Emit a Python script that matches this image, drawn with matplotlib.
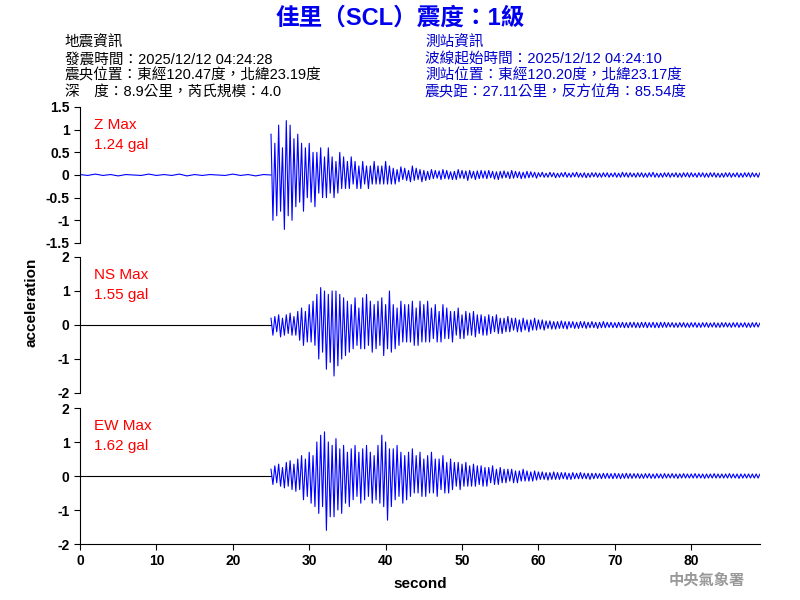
import matplotlib
matplotlib.use("Agg")
import matplotlib.pyplot as plt
import numpy as np

plt.rcParams['font.family'] = ['Liberation Sans', 'Noto Sans CJK TC', 'DejaVu Sans']

# pre-event samples, evenly spaced from t=0 to t=25
z_pre = [0.01,-0.01,0.02,-0.01,0.01,-0.02,0.01,0.0,-0.01,0.02,-0.01,0.01,-0.01,0.02,-0.02,0.01,-0.01,0.01,0.0,-0.01,0.02,-0.01,0.01,-0.02,0.01,0.0]
ns_pre = [0.0, 0.0]
ew_pre = [0.0, 0.0]
# event samples every 0.25 s from t=25
z_vals = [0.9,-1.0,0.7,-0.9,1.1,-0.8,0.6,-1.2,
          1.2,-0.9,1.1,-1.0,0.8,-0.7,0.9,-0.6,
          0.7,-0.8,0.6,-0.5,0.7,-0.6,0.5,-0.7,
          0.5,-0.4,0.6,-0.5,0.4,-0.5,0.6,-0.4,
          0.4,-0.5,0.3,-0.4,0.5,-0.3,0.4,-0.3,
          0.3,-0.3,0.4,-0.2,0.3,-0.3,0.2,-0.3,
          0.3,-0.2,0.2,-0.3,0.2,-0.2,0.3,-0.2,
          0.2,-0.2,0.2,-0.2,0.3,-0.2,0.2,-0.2,
          0.15,-0.2,0.12,-0.15,0.18,-0.1,0.15,-0.12,0.1,-0.15,0.2,-0.12,0.15,-0.1,0.12,-0.15,
          0.1,-0.12,0.08,-0.1,0.12,-0.08,0.1,-0.07,0.09,-0.1,0.12,-0.08,0.1,-0.09,0.07,-0.1,
          0.08,-0.1,0.12,-0.07,0.1,-0.08,0.09,-0.12,0.1,-0.07,0.08,-0.1,0.09,-0.08,0.1,-0.07,
          0.09,-0.08,0.1,-0.06,0.08,-0.09,0.07,-0.1,0.08,-0.07,0.09,-0.06,0.07,-0.08,0.1,-0.07,
          0.08,-0.06,0.07,-0.08,0.06,-0.07,0.08,-0.06,0.07,-0.05,0.06,-0.07,
          0.05,-0.04,0.06,-0.05,0.04,-0.05,0.06,-0.04,0.05,-0.06,0.04,-0.05,0.05,-0.04,0.06,-0.05,
          0.04,-0.05,0.05,-0.04,0.06,-0.05,0.04,-0.05,0.05,-0.06,0.04,-0.05,0.05,-0.04,0.05,-0.05,
          0.04,-0.05,0.05,-0.04,0.05,-0.05,0.04,-0.04,0.05,-0.05,0.04,-0.05,0.06,-0.04,0.05,-0.05,
          0.05,-0.04,0.04,-0.05,0.05,-0.04,0.05,-0.05,0.04,-0.05,0.05,-0.04,0.06,-0.05,0.04,-0.05,
          0.04,-0.05,0.05,-0.04,0.05,-0.05,0.04,-0.04,0.05,-0.05,0.04,-0.05,0.05,-0.04,0.05,-0.05,
          0.05,-0.04,0.04,-0.05,0.05,-0.04,0.05,-0.05,0.04,-0.05,0.05,-0.04,0.05,-0.05,0.04,-0.05,
          0.04,-0.05,0.05,-0.04,0.05,-0.05,0.04,-0.04,0.05,-0.05,0.04,-0.05,0.05,-0.04,0.05,-0.05,
          0.05,-0.04,0.04,-0.05,0.05,-0.04,0.05,-0.05]
ns_vals = [0.2,-0.3,0.25,-0.2,0.3,-0.35,0.2,-0.3,
           0.3,-0.25,0.35,-0.3,0.25,-0.3,
           0.4,-0.45,0.5,-0.6,0.4,-0.5,0.6,-0.5,0.7,-0.6,
           0.9,-1.0,1.1,-0.8,1.0,-1.3,0.9,-1.1,
           1.0,-1.5,1.0,-1.2,0.9,-1.0,0.8,-0.9,
           0.7,-0.8,0.6,-0.7,0.8,-0.6,0.5,-0.7,
           0.8,-0.7,0.9,-0.6,0.7,-0.8,0.6,-0.7,
           0.7,-0.6,0.8,-0.9,0.6,-0.7,1.0,-0.8,0.6,-0.7,0.5,-0.6,0.7,-0.5,0.6,-0.5,
           0.6,-0.5,0.7,-0.6,0.5,-0.6,0.7,-0.5,0.6,-0.5,0.7,
           -0.5,0.5,-0.4,0.6,-0.5,0.4,-0.5,0.6,-0.4,0.5,-0.4,0.4,-0.5,0.4,-0.3,0.5,-0.4,
           0.3,-0.4,0.4,-0.3,0.35,-0.3,0.4,-0.35,0.3,-0.25,0.3,-0.3,0.25,-0.3,0.3,-0.25,
           0.25,-0.2,0.3,-0.25,0.2,-0.25,0.2,-0.2,0.25,-0.2,0.2,-0.15,0.2,-0.2,0.15,-0.2,
           0.2,-0.15,0.15,-0.2,0.15,-0.15,0.2,-0.15,0.15,-0.12,0.15,-0.15,
           0.12,-0.1,0.12,-0.12,0.1,-0.12,0.1,-0.1,0.12,-0.1,0.1,-0.12,0.1,-0.08,0.1,-0.1,
           0.08,-0.1,0.1,-0.08,0.1,-0.1,0.08,-0.08,0.1,-0.08,0.08,-0.1,0.08,-0.08,0.1,-0.08,
           0.08,-0.07,0.08,-0.08,0.07,-0.08,0.08,-0.07,0.08,-0.08,0.07,-0.08,0.08,-0.07,0.08,-0.08,
           0.07,-0.08,0.08,-0.07,0.08,-0.08,0.07,-0.07,0.08,-0.08,0.07,-0.08,0.08,-0.07,0.08,-0.07,
           0.07,-0.06,0.07,-0.07,0.06,-0.07,0.07,-0.06,0.07,-0.07,0.06,-0.07,0.07,-0.06,0.07,-0.07,
           0.06,-0.07,0.07,-0.06,0.07,-0.07,0.06,-0.06,0.07,-0.07,0.06,-0.07,0.07,-0.06,0.07,-0.06,
           0.06,-0.07,0.07,-0.06,0.07,-0.07,0.06,-0.06,0.07,-0.07,0.06,-0.07,0.07,-0.06,0.07,-0.06,
           0.06,-0.07,0.06,-0.06,0.07,-0.06,0.06,-0.07]
ew_vals = [0.2,-0.25,0.3,-0.2,0.35,-0.3,0.25,-0.35,
           0.4,-0.3,0.45,-0.4,0.35,-0.45,0.5,-0.4,
           0.6,-0.7,0.5,-0.6,0.7,-0.8,0.6,-0.9,
           1.0,-1.1,1.2,-0.9,1.3,-1.6,1.0,-1.2,
           0.9,-1.2,1.1,-1.0,0.8,-1.1,0.9,-0.8,
           0.7,-0.9,0.8,-0.7,0.9,-0.6,0.7,-0.8,
           0.8,-0.7,0.9,-0.6,0.7,-0.8,0.6,-0.7,
           0.9,-0.8,1.2,-0.9,1.0,-1.3,0.8,-0.9,
           0.8,-0.7,0.9,-0.6,0.7,-0.8,0.6,-0.7,0.7,-0.6,0.8,-0.5,0.6,-0.5,0.7,-0.6,
           0.5,-0.6,0.6,-0.5,0.7,-0.5,0.5,-0.6,0.5,-0.4,0.6,-0.5,0.4,-0.5,0.5,-0.4,
           0.4,-0.3,0.4,-0.4,0.35,-0.3,0.4,-0.3,0.3,-0.3,0.35,-0.3,0.3,-0.25,0.3,-0.3,
           0.25,-0.3,0.25,-0.2,0.3,-0.25,0.2,-0.25,0.25,-0.2,0.2,-0.2,0.2,-0.15,0.2,-0.2,
           0.15,-0.2,0.15,-0.15,0.2,-0.15,0.15,-0.15,0.12,-0.15,0.15,-0.12,
           0.12,-0.1,0.12,-0.1,0.1,-0.12,0.1,-0.1,0.12,-0.1,0.1,-0.1,0.1,-0.08,0.1,-0.1,
           0.08,-0.1,0.1,-0.08,0.08,-0.08,0.1,-0.08,0.08,-0.08,0.08,-0.1,0.08,-0.08,0.08,-0.07,
           0.07,-0.08,0.08,-0.07,0.08,-0.07,0.07,-0.08,0.08,-0.07,0.07,-0.08,0.07,-0.07,0.08,-0.07,
           0.07,-0.07,0.07,-0.06,0.07,-0.07,0.06,-0.07,0.07,-0.06,0.07,-0.07,0.06,-0.07,0.07,-0.06,
           0.06,-0.07,0.07,-0.06,0.06,-0.06,0.07,-0.06,0.06,-0.07,0.06,-0.06,0.07,-0.06,0.06,-0.06,
           0.06,-0.06,0.07,-0.06,0.06,-0.06,0.06,-0.07,0.06,-0.06,0.06,-0.06,0.07,-0.06,0.06,-0.06,
           0.06,-0.06,0.06,-0.06,0.07,-0.06,0.06,-0.06,0.06,-0.07,0.06,-0.06,0.06,-0.06,0.06,-0.06,
           0.06,-0.06,0.06,-0.06,0.06,-0.06,0.06,-0.06,
           0.06,-0.06,0.06,-0.06,0.06,-0.06,0.06,-0.06]

channels = ["Z Max", "NS Max", "EW Max"]
max_labels = ["1.24 gal", "1.55 gal", "1.62 gal"]
pre_colors = ['blue', 'black', 'black']
ylims = [(-1.5, 1.5), (-2, 2), (-2, 2)]
yticks = [[-1.5, -1, -0.5, 0, 0.5, 1, 1.5], [-2, -1, 0, 1, 2], [-2, -1, 0, 1, 2]]
ytick_labels = [["-1.5", "-1", "-0.5", "0", "0.5", "1", "1.5"], ["-2", "-1", "0", "1", "2"], ["-2", "-1", "0", "1", "2"]]
xticks = [0, 10, 20, 30, 40, 50, 60, 70, 80]

fig = plt.figure(figsize=(8, 6), dpi=100)
W, H = 800, 600
panels = [(107, 243), (257, 393), (408, 544)]
data = [(z_pre, z_vals), (ns_pre, ns_vals), (ew_pre, ew_vals)]
for i, ((top, bot), (pre, vals)) in enumerate(zip(panels, data)):
    ax = fig.add_axes([80 / W, 1 - bot / H, 680 / W, (bot - top) / H])
    t_pre = np.linspace(0, 25, len(pre))
    t_ev = 25 + np.arange(len(vals)) * 0.25
    ax.plot(t_pre, pre, color=pre_colors[i], lw=0.8)
    ax.plot(t_ev, vals, color='blue', lw=0.8)
    ax.set_xlim(0, 89)
    ax.set_ylim(*ylims[i])
    ax.set_yticks(yticks[i])
    ax.set_yticklabels(ytick_labels[i])
    for s in ['top', 'right']:
        ax.spines[s].set_visible(False)
    ax.tick_params(labelsize=10, length=4)
    for lab in ax.get_yticklabels():
        lab.set_fontweight('bold')
    if i < 2:
        ax.spines['bottom'].set_visible(False)
        ax.set_xticks([])
    else:
        ax.set_xticks(xticks)
        for lab in ax.get_xticklabels():
            lab.set_fontweight('bold')
        ax.set_xlabel("second", fontsize=11, fontweight='bold', labelpad=6)
    ax.text(0.02, 0.92, channels[i], transform=ax.transAxes, color='red', fontsize=11, va='top')
    ax.text(0.02, 0.77, max_labels[i], transform=ax.transAxes, color='red', fontsize=11, va='top')

fig.text(32 / W, 1 - 302 / H, "acceleration", rotation=90, ha='center', va='center', fontsize=11, fontweight='bold')
fig.text(0.5, 1 - 18 / H, "佳里（SCL）震度：1級", color='#0000ee', fontsize=17, fontweight='bold', ha='center', va='center')
left = ["地震資訊", "發震時間：2025/12/12 04:24:28", "震央位置：東經120.47度，北緯23.19度", "深　度：8.9公里，芮氏規模：4.0"]
right = ["測站資訊", "波線起始時間：2025/12/12 04:24:10", "測站位置：東經120.20度，北緯23.17度", "震央距：27.11公里，反方位角：85.54度"]
for k, (l, r) in enumerate(zip(left, right)):
    y = 1 - (43 + k * 16.3) / H
    fig.text(65 / W, y, l, fontsize=10.5, color='black', va='center')
    fig.text(425 / W, y, r, fontsize=10.5, color='#0000cc', va='center')
fig.text(745 / W, 1 - 580 / H, "中央氣象署", fontsize=11, color='#999999', ha='right', va='center', fontweight='bold')
fig.savefig("out.png", dpi=100)
